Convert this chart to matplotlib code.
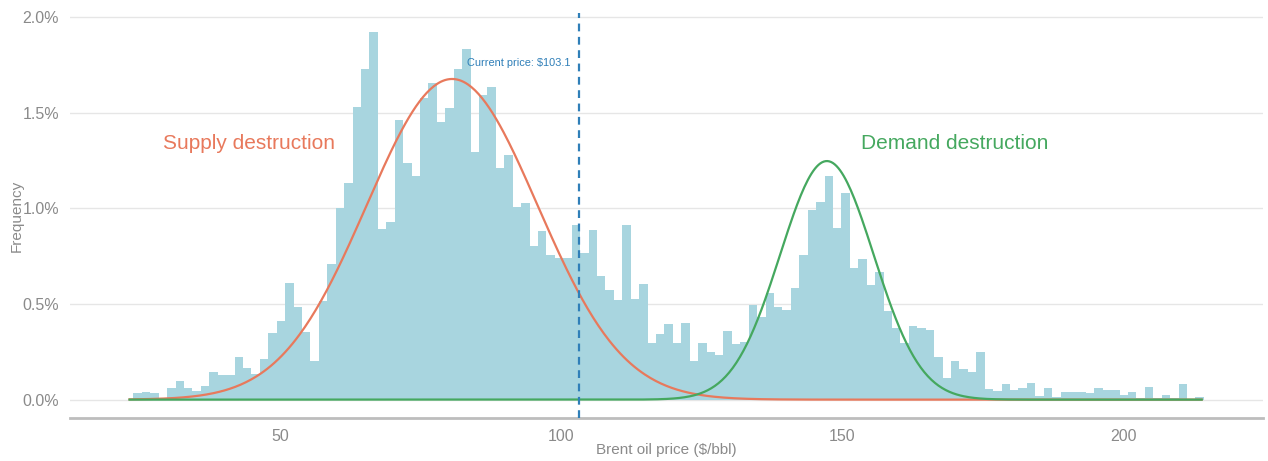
import numpy as np
import matplotlib
matplotlib.use('Agg')
import matplotlib.pyplot as plt

# histogram of simulated Brent price outcomes, bar heights in % of draws
bin_start = 23.9
bin_width = 1.5
freq_pct = [
    0.033, 0.038, 0.033, 0.005, 0.059, 0.099, 0.059, 0.047, 0.071, 0.146,
    0.129, 0.129, 0.221, 0.164, 0.132, 0.212, 0.347, 0.411, 0.611, 0.486,
    0.355, 0.202, 0.515, 0.707, 1.000, 1.134, 1.531, 1.728, 1.923, 0.893,
    0.927, 1.462, 1.235, 1.170, 1.575, 1.653, 1.453, 1.523, 1.730, 1.834,
    1.292, 1.590, 1.634, 1.209, 1.279, 1.008, 1.030, 0.803, 0.880, 0.757,
    0.739, 0.739, 0.913, 0.769, 0.887, 0.648, 0.573, 0.519, 0.914, 0.525,
    0.606, 0.297, 0.343, 0.394, 0.297, 0.399, 0.203, 0.297, 0.250, 0.233,
    0.357, 0.290, 0.303, 0.495, 0.433, 0.557, 0.482, 0.468, 0.582, 0.756,
    0.992, 1.035, 1.167, 0.897, 1.078, 0.686, 0.733, 0.597, 0.666, 0.465,
    0.373, 0.297, 0.385, 0.373, 0.364, 0.221, 0.112, 0.200, 0.158, 0.146,
    0.250, 0.054, 0.047, 0.082, 0.050, 0.062, 0.088, 0.020, 0.062, 0.012,
    0.041, 0.041, 0.041, 0.033, 0.062, 0.050, 0.050, 0.022, 0.041, 0.007,
    0.064, 0.006, 0.024, 0.006, 0.082, 0.005, 0.012,
]

# fitted normal components: (mean, sd, peak %)
supply_fit = (80.6, 15.2, 1.676)
demand_fit = (147.3, 8.34, 1.247)
curve_range = (23.2, 214.0)

current_price = 103.1
y_ticks = [0.0, 0.5, 1.0, 1.5, 2.0]
x_ticks = [50, 100, 150, 200]

bar_color = '#a8d5df'
supply_color = '#e8795c'
demand_color = '#45a85f'
vline_color = '#2f7fb8'
grey = '#8a8a8a'

plt.rcParams['font.family'] = ['Liberation Sans', 'DejaVu Sans']

fig = plt.figure(figsize=(12.68, 4.61), dpi=100)
ax = fig.add_axes([0.0552, 0.0933, 0.9408, 0.8777])

lefts = bin_start + bin_width * np.arange(len(freq_pct))
ax.bar(lefts, freq_pct, width=bin_width, align='edge', color=bar_color,
       linewidth=0, zorder=2)

xs = np.linspace(curve_range[0], curve_range[1], 600)
for (mu, sd, peak), color in [(supply_fit, supply_color), (demand_fit, demand_color)]:
    ax.plot(xs, peak * np.exp(-0.5 * ((xs - mu) / sd) ** 2), color=color,
            linewidth=1.6, zorder=3)

ax.axvline(current_price, color=vline_color, linestyle=(0, (3.5, 2.5)),
           linewidth=1.6, zorder=4)
ax.text(current_price - 1.5, 1.761, f'Current price: ${current_price}',
        color=vline_color, fontsize=7.9, ha='right', va='center', zorder=5)

ax.text(44.5, 1.341, 'Supply destruction', color=supply_color, fontsize=15,
        ha='center', va='center')
ax.text(170.1, 1.341, 'Demand destruction', color=demand_color, fontsize=15,
        ha='center', va='center')

ax.set_xlim(12.6, 224.9)
ax.set_ylim(-0.096, 2.019)
ax.set_yticks(y_ticks)
ax.set_yticklabels([f'{t:.1f}%' for t in y_ticks])
ax.set_xticks(x_ticks)
ax.tick_params(length=0, labelsize=11.5, colors=grey, pad=8)
ax.grid(axis='y', color='#e6e6e6', linewidth=1.0, zorder=0)
ax.set_axisbelow(True)

for side in ['top', 'right', 'left']:
    ax.spines[side].set_visible(False)
ax.spines['bottom'].set_color('#bdbdbd')
ax.spines['bottom'].set_linewidth(2.0)

ax.set_xlabel('Brent oil price ($/bbl)', fontsize=11, color=grey, va='center')
ax.xaxis.set_label_coords(0.5, -0.08)
ax.set_ylabel('Frequency', fontsize=11, color=grey, va='center')
ax.yaxis.set_label_coords(-0.0445, 0.5)

fig.savefig('out.png', dpi=100)
